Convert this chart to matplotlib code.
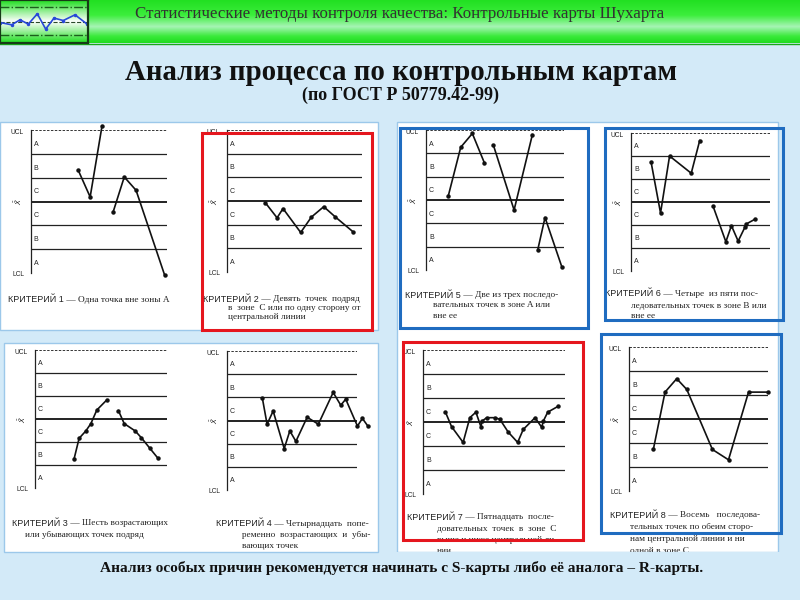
import matplotlib

matplotlib.use("Agg")
import matplotlib.pyplot as plt
import numpy as np
from matplotlib.colors import LinearSegmentedColormap
from matplotlib.patches import Rectangle

NAN = float("nan")

HEADER = "Статистические методы контроля качества: Контрольные карты Шухарта"
TITLE = "Анализ процесса по контрольным картам"
SUBTITLE = "(по ГОСТ Р 50779.42-99)"
FOOTNOTE = "Анализ особых причин рекомендуется начинать с S-карты либо её аналога – R-карты."

# zone boundaries in sigma units: UCL, A/B, B/C, centre, C/B, B/A, LCL
ZONE_LINES = [3, 2, 1, 0, -1, -2, -3]
ZONE_LETTERS = ["A", "B", "C", "C", "B", "A"]

# little chart in the header icon
ICON_X = [0, 11.7, 20, 28.3, 37.3, 45.7, 54, 63.3, 75, 86.7]
ICON_Y = [-1, -3.3, 1.7, -2.6, 7.7, -7.6, 3.4, 1, 6.7, -2.3]

# sample number / value (sigma units) for each criterion, NaN breaks the line
K1_X = [4.16, 5.22, 6.26, NAN, 7.26, 8.23, 9.27, 11.8]
K1_Y = [1.32, 0.19, 3.15, NAN, -0.42, 1.03, 0.47, -3.1]

K2_X = [3.42, 4.45, 4.98, 6.55, 7.5, 8.6, 9.62, 11.2]
K2_Y = [-0.08, -0.71, -0.32, -1.33, -0.68, -0.24, -0.67, -1.3]

K3_X = [3.55, 4.01, 4.62, 5.08, 5.62, 6.53, NAN, 7.59, 8.11, 9.11, 9.66, 10.42, 11.15]
K3_Y = [-1.74, -0.84, -0.52, -0.2, 0.39, 0.83, NAN, 0.36, -0.2, -0.52, -0.81, -1.26, -1.69]

K4_X = [3.27, 3.7, 4.26, 5.28, 5.8, 6.36, 7.4, 8.43, 9.8, 10.5, 10.96, 12.04, 12.5, 13.0]
K4_Y = [0.95, -0.16, 0.41, -1.21, -0.45, -0.9, 0.14, -0.16, 1.21, 0.66, 0.92, -0.24, 0.09, -0.24]

K5_X = [1.94, 3.02, 4.03, 5.07, NAN, 5.86, 7.66, 9.25, NAN, 9.72, 10.35, 11.8]
K5_Y = [0.18, 2.26, 2.85, 1.6, NAN, 2.35, -0.43, 2.8, NAN, -2.13, -0.75, -2.85]

K6_X = [1.74, 2.55, 3.33, 5.2, 5.93, NAN, 7.09, 8.19, 8.67, 9.25, 9.83, 9.97, 10.7]
K6_Y = [1.72, -0.48, 2.0, 1.25, 2.67, NAN, -0.19, -1.73, -1.03, -1.7, -1.1, -0.95, -0.75]

K7_X = [1.9, 2.41, 3.39, 3.96, 4.47, 4.89, 5.0, 5.38, 6.08, 6.5, 7.2, 8.0, 8.47, 9.47, 10.03, 10.17, 10.54, 11.44]
K7_Y = [0.41, -0.19, -0.85, 0.18, 0.41, -0.19, 0.04, 0.18, 0.18, 0.11, -0.42, -0.85, -0.31, 0.18, -0.22, 0.04, 0.41, 0.66]

K8_X = [2.1, 3.11, 4.12, 4.99, 7.2, 8.59, 10.32, 12.0]
K8_Y = [-1.27, 1.12, 1.68, 1.23, -1.27, -1.7, 1.12, 1.12]

CAPTION_HEADS = ["КРИТЕРИЙ 1", "КРИТЕРИЙ 2", "КРИТЕРИЙ 3", "КРИТЕРИЙ 4",
                 "КРИТЕРИЙ 5", "КРИТЕРИЙ 6", "КРИТЕРИЙ 7", "КРИТЕРИЙ 8"]
CAPTION_LINES = [
    [" — Одна точка вне зоны А"],
    [" — Девять  точек  подряд", "в  зоне  С или по одну сторону от", "центральной линии"],
    [" — Шесть возрастающих", "или убывающих точек подряд"],
    [" — Четырнадцать  попе-", "ременно  возрастающих  и  убы-", "вающих точек"],
    [" — Две из трех последо-", "вательных точек в зоне A или", "вне ее"],
    [" — Четыре  из пяти пос-", "ледовательных точек в зоне B или", "вне ее"],
    [" — Пятнадцать  после-", "довательных  точек  в  зоне  C", "выше и ниже центральной ли-", "нии"],
    [" — Восемь   последова-", "тельных точек по обеим сторо-", "нам центральной линии и ни", "одной в зоне С"],
]

SERIES = [(K1_X, K1_Y), (K2_X, K2_Y), (K3_X, K3_Y), (K4_X, K4_Y),
          (K5_X, K5_Y), (K6_X, K6_Y), (K7_X, K7_Y), (K8_X, K8_Y)]

# pixel layout: chart (left, ucl_y, right, lcl_y), caption x first line, x other lines, y of lines
CHART_RECTS = [(31, 130, 167, 273), (227, 130, 362, 272), (35, 350, 167, 488), (227, 351, 357, 490),
               (426, 130, 564, 270), (631, 133, 770, 271), (423, 350, 565, 494), (629, 347, 768, 491)]
CAPTION_POS = [(8, 8, [300]), (203, 228, [299, 308, 317]), (12, 25, [523, 535]),
               (216, 242, [524, 535, 546]), (405, 433, [295, 305, 316]), (605, 631, [294, 306, 316]),
               (407, 437, [517, 529, 540, 551]), (610, 630, [515, 527, 539, 551])]

W, H = 800, 600
BG = "#d3eaf8"
SERIF = "Liberation Serif"
SANS = "Liberation Sans"


def px_axes(fig, x0, y0, x1, y1, **kw):
    return fig.add_axes([x0 / W, 1 - y1 / H, (x1 - x0) / W, (y1 - y0) / H], **kw)


def draw_chart(ax, xs, ys):
    ax.set_xlim(0, 12)
    ax.set_ylim(-3, 3)
    ax.patch.set_alpha(0)
    for side in ["top", "right", "bottom"]:
        ax.spines[side].set_visible(False)
    ax.spines["left"].set_linewidth(0.9)
    ax.spines["left"].set_color("#222222")
    ax.set_xticks([])
    ax.set_yticks([])
    for lev in ZONE_LINES:
        if abs(lev) == 3:
            ax.axhline(lev, color="#333333", lw=0.7, ls=(0, (2.5, 1.5)))
        elif lev == 0:
            ax.axhline(lev, color="#222222", lw=1.4)
        else:
            ax.axhline(lev, color="#222222", lw=0.9)
    for i, letter in enumerate(ZONE_LETTERS):
        mid = (ZONE_LINES[i] + ZONE_LINES[i + 1]) / 2
        ax.text(0.25, mid - 0.1, letter, fontsize=5, family=SANS, va="center", color="#222222")
    yt = ax.get_yaxis_transform()
    ax.annotate("UCL", xy=(0, 3), xycoords=yt, xytext=(-5, -2), textcoords="offset points",
                ha="right", va="center", fontsize=4.8, family=SANS, color="#222222")
    ax.annotate("LCL", xy=(0, -3), xycoords=yt, xytext=(-5, -1), textcoords="offset points",
                ha="right", va="center", fontsize=4.8, family=SANS, color="#222222")
    ax.annotate(r"$\bar{\bar{X}}$", xy=(0, 0), xycoords=yt, xytext=(-9, 0), textcoords="offset points",
                ha="center", va="center", fontsize=5, rotation=90, color="#222222")
    ax.plot(xs, ys, color="#111111", lw=1.2, marker="o", markersize=2.2, clip_on=False)


def main():
    fig = plt.figure(figsize=(8, 6), dpi=100)
    fig.patch.set_facecolor(BG)

    bg = fig.add_axes([0, 0, 1, 1], zorder=0)
    bg.axis("off")

    # header band
    band = LinearSegmentedColormap.from_list(
        "band", [(0, "#22e022"), (0.35, "#3cee3c"), (0.62, "#a6f4b4"), (0.85, "#3aea3a"), (1, "#20dc20")])
    grad = np.linspace(0, 1, 64).reshape(-1, 1)
    bg.imshow(grad, cmap=band, extent=[0, W, 43, 0], aspect="auto", zorder=1)
    bg.plot([0, W], [43.5, 43.5], color="#18a818", lw=1, zorder=2)
    bg.text(400, 14, HEADER, fontsize=12.2, family=SERIF, color="#333333", ha="center", va="center", zorder=3)

    # white panel areas
    for x0, y0, x1, y1 in [(0, 122, 378, 330), (4, 343, 378, 552), (397, 122, 778, 552)]:
        bg.add_patch(Rectangle((x0, y0), x1 - x0, y1 - y0, facecolor="white", edgecolor="#9cc8ea", lw=1, zorder=1))
    bg.set_xlim(0, W)
    bg.set_ylim(H, 0)

    bg.text(401, 73, TITLE, fontsize=20.8, family=SERIF, weight="bold", color="#111111", ha="center", va="center")
    bg.text(400, 95, SUBTITLE, fontsize=13, family=SERIF, weight="bold", color="#111111", ha="center", va="center")

    # header icon
    icon = px_axes(fig, 0, 0, 88, 43, zorder=3)
    icon_cmap = LinearSegmentedColormap.from_list("icon", [(0, "#22dd22"), (0.5, "#ffffff"), (1, "#22dd22")])
    icon.imshow(grad, cmap=icon_cmap, extent=[0, 88, -21.5, 21.5], aspect="auto")
    icon.set_xlim(0, 88)
    icon.set_ylim(-21.5, 21.5)
    icon.set_xticks([])
    icon.set_yticks([])
    for sp in icon.spines.values():
        sp.set_linewidth(1.6)
        sp.set_color("#173b17")
    icon.axhline(15, color="#1c5e1c", lw=1, ls="-.")
    icon.axhline(-13.5, color="#1c5e1c", lw=1, ls="-.")
    icon.axhline(0, color="#2a4a2a", lw=0.8, ls="--")
    icon.plot(ICON_X, ICON_Y, color="#2848d8", lw=1.2, marker="o", markersize=1.5)

    # control charts and captions
    for k, (xs, ys) in enumerate(SERIES):
        x0, y0, x1, y1 = CHART_RECTS[k]
        ax = px_axes(fig, x0, y0, x1, y1, zorder=5)
        draw_chart(ax, xs, ys)

        cx0, cx1, cys = CAPTION_POS[k]
        lines = CAPTION_LINES[k]
        head = bg.text(cx0, cys[0], CAPTION_HEADS[k], fontsize=6.5, family=SANS, color="#222222",
                       va="center", zorder=4)
        bg.annotate(lines[0], xy=(1, 0.5), xycoords=head, va="center", fontsize=6.7, family=SERIF,
                    color="#222222", zorder=4)
        for text, cy in zip(lines[1:], cys[1:]):
            bg.text(cx1, cy, text, fontsize=6.7, family=SERIF, color="#222222", va="center", zorder=4)

    # highlight boxes above everything
    top = fig.add_axes([0, 0, 1, 1], zorder=10)
    top.set_xlim(0, W)
    top.set_ylim(H, 0)
    top.axis("off")
    top.patch.set_alpha(0)
    top.add_patch(Rectangle((395, 552), 390, 8, facecolor=BG, edgecolor="none"))
    for (x0, y0, x1, y1), col in [((202, 133, 372, 330), "#e5161e"), ((403, 342, 583, 540), "#e5161e"),
                                  ((400, 128, 588, 328), "#1f6cc0"), ((605, 128, 783, 320), "#1f6cc0"),
                                  ((601, 334, 781, 533), "#1f6cc0")]:
        top.add_patch(Rectangle((x0, y0), x1 - x0, y1 - y0, facecolor="none", edgecolor=col, lw=2.2))
    top.text(402, 568, FOOTNOTE, fontsize=11.1, family=SERIF, weight="bold", color="#111111",
             ha="center", va="center")

    fig.savefig("out.png", dpi=100, facecolor=BG)
    plt.close(fig)


if __name__ == "__main__":
    main()
